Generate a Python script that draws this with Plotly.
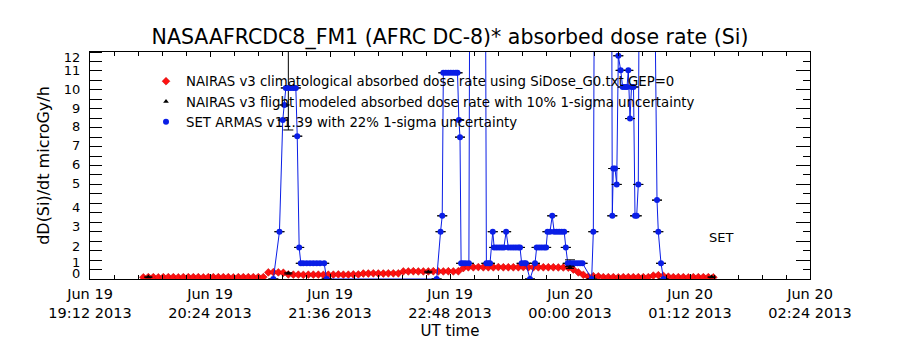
import plotly.graph_objects as go
import pandas as pd

FONT = "DejaVu Sans"

title_text = "NASAAFRCDC8_FM1 (AFRC DC-8)* absorbed dose rate (Si)"
y_title = "dD(Si)/dt microGy/h"
x_title = "UT time"
legend_names = [
    "NAIRAS v3 climatological absorbed dose rate using SiDose_G0.txt GEP=0",
    "NAIRAS v3 flight modeled absorbed dose rate with 10% 1-sigma uncertainty",
    "SET ARMAS v11.39 with 22% 1-sigma uncertainty",
]
set_label = "SET"

# x axis
x_range = ["2013-06-19 19:12", "2013-06-20 02:24"]
x_tick_times = ["2013-06-19 19:12", "2013-06-19 20:24", "2013-06-19 21:36",
                "2013-06-19 22:48", "2013-06-20 00:00", "2013-06-20 01:12",
                "2013-06-20 02:24"]
x_tick_text = ["Jun 19<br>19:12 2013", "Jun 19<br>20:24 2013", "Jun 19<br>21:36 2013",
               "Jun 19<br>22:48 2013", "Jun 20<br>00:00 2013", "Jun 20<br>01:12 2013",
               "Jun 20<br>02:24 2013"]

# y axis (labels sit where the original plot put them)
y_range = [0, 12]
y_tick_text = ["0", "1", "2", "3", "4", "5", "6", "7", "8", "9", "10", "11", "12"]
y_tick_pos = [0.30, 0.85, 1.74, 2.76, 3.78, 5.05, 6.05, 7.04, 8.04, 9.03, 10.03, 11.03, 11.72]

# NAIRAS climatological (red), sampled every 3 minutes from 19:44
red_start = "2013-06-19 19:44"
red_vals = [
    0.09, 0.10, 0.10, 0.09, 0.10, 0.10, 0.10, 0.09, 0.10, 0.10,
    0.10, 0.10, 0.09, 0.10, 0.10, 0.10, 0.10, 0.10, 0.09, 0.10,
    0.10, 0.10, 0.10, 0.10, 0.10,
    0.35, 0.36, 0.35, 0.33, 0.24,
    0.23, 0.23, 0.22, 0.23, 0.23, 0.23, 0.22, 0.23, 0.23, 0.24,
    0.23, 0.23, 0.24, 0.24,
    0.29, 0.29, 0.30, 0.29, 0.29, 0.30, 0.30, 0.30,
    0.40, 0.40, 0.41, 0.40, 0.40, 0.40, 0.41, 0.40, 0.40, 0.41,
    0.40, 0.41,
    0.58,
    0.62, 0.62, 0.63, 0.62, 0.62, 0.62, 0.63, 0.62, 0.62, 0.62,
    0.62, 0.63, 0.62, 0.62, 0.62, 0.62, 0.62, 0.62, 0.61, 0.61,
    0.60,
    0.50, 0.35, 0.22, 0.12, 0.15, 0.14,
    0.10, 0.10, 0.10, 0.09, 0.10, 0.10, 0.10, 0.10, 0.10, 0.10,
    0.18, 0.20, 0.17, 0.12, 0.10, 0.10, 0.10, 0.09, 0.10, 0.10,
    0.10, 0.10, 0.09,
]

# NAIRAS flight modeled (black)
black_times = ["2013-06-19 19:47:00", "2013-06-19 21:11:00", "2013-06-19 22:35:00",
               "2013-06-20 00:00:00", "2013-06-20 01:25:00"]
black_vals = [0.10, 0.30, 0.37, 0.62, 0.10]
black_rel_err = 0.10

# SET ARMAS (blue); values above 12 run off the top of the plot
blue_times = [
    "2013-06-19 21:02:00", "2013-06-19 21:05:40", "2013-06-19 21:07:40", "2013-06-19 21:08:40",
    "2013-06-19 21:09:30", "2013-06-19 21:11:00", "2013-06-19 21:12:30", "2013-06-19 21:14:00",
    "2013-06-19 21:15:30", "2013-06-19 21:16:20", "2013-06-19 21:17:30", "2013-06-19 21:18:30",
    "2013-06-19 21:20:00", "2013-06-19 21:22:00", "2013-06-19 21:24:00", "2013-06-19 21:26:00",
    "2013-06-19 21:28:00", "2013-06-19 21:30:00", "2013-06-19 21:32:30", "2013-06-19 21:34:00",
    "2013-06-19 22:40:00", "2013-06-19 22:42:20", "2013-06-19 22:43:20", "2013-06-19 22:44:00",
    "2013-06-19 22:45:30", "2013-06-19 22:47:00", "2013-06-19 22:48:30", "2013-06-19 22:50:00",
    "2013-06-19 22:51:30", "2013-06-19 22:52:30", "2013-06-19 22:53:20", "2013-06-19 22:54:00",
    "2013-06-19 22:54:40", "2013-06-19 22:56:00", "2013-06-19 22:57:30", "2013-06-19 22:59:20",
    "2013-06-19 22:59:50", "2013-06-19 23:03:00", "2013-06-19 23:06:00", "2013-06-19 23:09:20",
    "2013-06-19 23:09:50", "2013-06-19 23:11:00", "2013-06-19 23:12:00", "2013-06-19 23:13:40",
    "2013-06-19 23:14:30", "2013-06-19 23:16:00", "2013-06-19 23:17:30", "2013-06-19 23:19:00",
    "2013-06-19 23:20:20", "2013-06-19 23:21:40", "2013-06-19 23:23:00", "2013-06-19 23:24:30",
    "2013-06-19 23:26:00", "2013-06-19 23:27:30", "2013-06-19 23:29:00", "2013-06-19 23:30:00",
    "2013-06-19 23:31:00", "2013-06-19 23:32:30", "2013-06-19 23:33:30", "2013-06-19 23:36:00",
    "2013-06-19 23:39:00", "2013-06-19 23:40:00", "2013-06-19 23:41:30", "2013-06-19 23:43:00",
    "2013-06-19 23:44:30", "2013-06-19 23:45:40", "2013-06-19 23:46:30", "2013-06-19 23:48:00",
    "2013-06-19 23:49:20", "2013-06-19 23:50:30", "2013-06-19 23:52:00", "2013-06-19 23:53:30",
    "2013-06-19 23:55:00", "2013-06-19 23:56:30", "2013-06-19 23:57:30", "2013-06-19 23:58:40",
    "2013-06-20 00:00:00", "2013-06-20 00:01:30", "2013-06-20 00:03:00", "2013-06-20 00:04:30",
    "2013-06-20 00:06:00", "2013-06-20 00:07:30", "2013-06-20 00:13:00", "2013-06-20 00:14:00",
    "2013-06-20 00:14:40", "2013-06-20 00:19:00", "2013-06-20 00:25:00", "2013-06-20 00:25:23",
    "2013-06-20 00:25:59", "2013-06-20 00:27:00", "2013-06-20 00:28:01", "2013-06-20 00:28:59",
    "2013-06-20 00:30:25", "2013-06-20 00:31:37", "2013-06-20 00:33:00", "2013-06-20 00:34:12",
    "2013-06-20 00:34:59", "2013-06-20 00:36:00", "2013-06-20 00:36:54", "2013-06-20 00:38:06",
    "2013-06-20 00:39:00", "2013-06-20 00:40:01", "2013-06-20 00:40:59", "2013-06-20 00:41:35",
    "2013-06-20 00:46:00", "2013-06-20 00:50:42", "2013-06-20 00:52:12", "2013-06-20 00:52:59",
    "2013-06-20 00:54:36", "2013-06-20 00:56:06",
]
blue_vals = [
    0.0, 2.5, 8.4, 9.2,
    10.1, 10.1, 10.1, 10.1,
    10.1, 7.55, 1.67, 0.83,
    0.83, 0.83, 0.83, 0.83,
    0.83, 0.83, 0.83, 0.0,
    0.0, 2.5, 3.34, 10.9,
    10.9, 10.9, 10.9, 10.9,
    10.9, 10.9, 8.4, 7.5,
    0.83, 0.83, 0.83, 0.83,
    16.0, 19.0, 17.0, 15.0,
    0.83, 0.83, 0.83, 2.5,
    1.67, 1.67, 1.67, 1.67,
    1.67, 2.5, 1.67, 1.67,
    1.67, 1.67, 1.67, 1.67,
    0.83, 0.83, 0.83, 0.0,
    0.83, 1.67, 1.67, 1.67,
    1.67, 1.67, 2.5, 2.5,
    3.34, 2.5, 2.5, 2.5,
    2.5, 2.5, 1.67, 0.83,
    0.83, 0.83, 0.83, 0.83,
    0.83, 0.83, 0.0, 2.5,
    17.0, 20.0, 16.0, 3.34,
    5.84, 5.84, 5.0, 11.8,
    11.03, 10.15, 10.15, 10.15,
    11.03, 8.48, 10.15, 10.15,
    3.34, 3.34, 5.0, 18.0,
    21.0, 17.0, 4.17, 2.5,
    0.83, 0.0,
]
blue_rel_err = 0.22
blue_err_times = ["2013-06-19 21:11:00", "2013-06-20 00:00:00"]

red_times = pd.date_range(start=red_start, periods=len(red_vals), freq="3min")
blue_err = [round(v * blue_rel_err, 3) if t in blue_err_times else None
            for t, v in zip(blue_times, blue_vals)]
black_err = [v * black_rel_err for v in black_vals]

RED = "#ff1010"
BLUE = "#0a1ee6"

fig = go.Figure()
fig.add_trace(go.Scatter(
    x=red_times, y=red_vals, mode="markers", name=legend_names[0],
    marker=dict(symbol="diamond", size=6, color=RED,
                line=dict(width=0.5, color="#c00000")),
))
fig.add_trace(go.Scatter(
    x=black_times, y=black_vals, mode="markers", name=legend_names[1], yaxis="y2",
    marker=dict(symbol="triangle-up", size=5, color="black"),
    error_y=dict(type="data", array=black_err, visible=True, color="black",
                 thickness=1, width=4),
))
# connecting line of the SET ARMAS series (same data, no legend entry)
fig.add_trace(go.Scatter(
    x=blue_times, y=blue_vals, mode="lines", showlegend=False, hoverinfo="skip",
    line=dict(color=BLUE, width=1),
))
fig.add_trace(go.Scatter(
    x=blue_times, y=blue_vals, mode="markers", name=legend_names[2],
    marker=dict(symbol="circle", size=6, color=BLUE),
    error_y=dict(type="data", array=blue_err, visible=True, color="black",
                 thickness=1, width=5),
))

fig.add_annotation(text=set_label, xref="paper", yref="paper", x=0.876, y=0.185,
                   xanchor="center", yanchor="middle",
                   showarrow=False, font=dict(family=FONT, size=13, color="black"))

fig.update_layout(
    width=900, height=350,
    margin=dict(l=90, r=90, t=52, b=71),
    paper_bgcolor="white", plot_bgcolor="white",
    font=dict(family=FONT, color="black"),
    title=dict(text=title_text, x=0.5, xanchor="center", xref="container",
               y=0.894, yanchor="middle", yref="container",
               font=dict(family=FONT, size=20.5, color="black")),
    showlegend=True,
    legend=dict(x=0.0778, y=0.938, xanchor="left", yanchor="top",
                bgcolor="rgba(0,0,0,0)", borderwidth=0,
                font=dict(family=FONT, size=13.3, color="black"),
                itemwidth=30, tracegroupgap=0),
    xaxis=dict(
        type="date", range=x_range, tickmode="array",
        tickvals=x_tick_times, ticktext=x_tick_text,
        ticks="inside", ticklen=5, tickcolor="black",
        minor=dict(ticks="inside", ticklen=4, dtick=864000, tick0=x_range[0],
                   tickcolor="black"),
        showline=True, linecolor="black", linewidth=1, mirror="ticks",
        showgrid=False, zeroline=False,
        tickfont=dict(family=FONT, size=14.5, color="black"),
        ticklabelstandoff=2,
        title=dict(text=x_title, font=dict(family=FONT, size=15, color="black"),
                   standoff=5),
    ),
    yaxis=dict(
        range=y_range, tickmode="array", tickvals=y_tick_pos, ticktext=y_tick_text,
        ticks="", showline=True, linecolor="black", linewidth=1,
        minor=dict(ticks="inside", ticklen=12, dtick=0.5, tick0=0, tickcolor="black"),
        showgrid=False, zeroline=False,
        tickfont=dict(family=FONT, size=13, color="black"),
        ticklabelstandoff=6,
        title=dict(text=y_title, font=dict(family=FONT, size=16, color="black"),
                   standoff=10),
    ),
    yaxis2=dict(
        range=y_range, overlaying="y", side="right", anchor="x",
        tickmode="linear", tick0=0, dtick=1, ticks="inside", ticklen=14,
        tickcolor="black",
        minor=dict(ticks="inside", ticklen=7, dtick=0.5, tick0=0, tickcolor="black"),
        showticklabels=False, showline=True, linecolor="black", linewidth=1,
        showgrid=False, zeroline=False,
    ),
)

fig.write_html("out.html")
